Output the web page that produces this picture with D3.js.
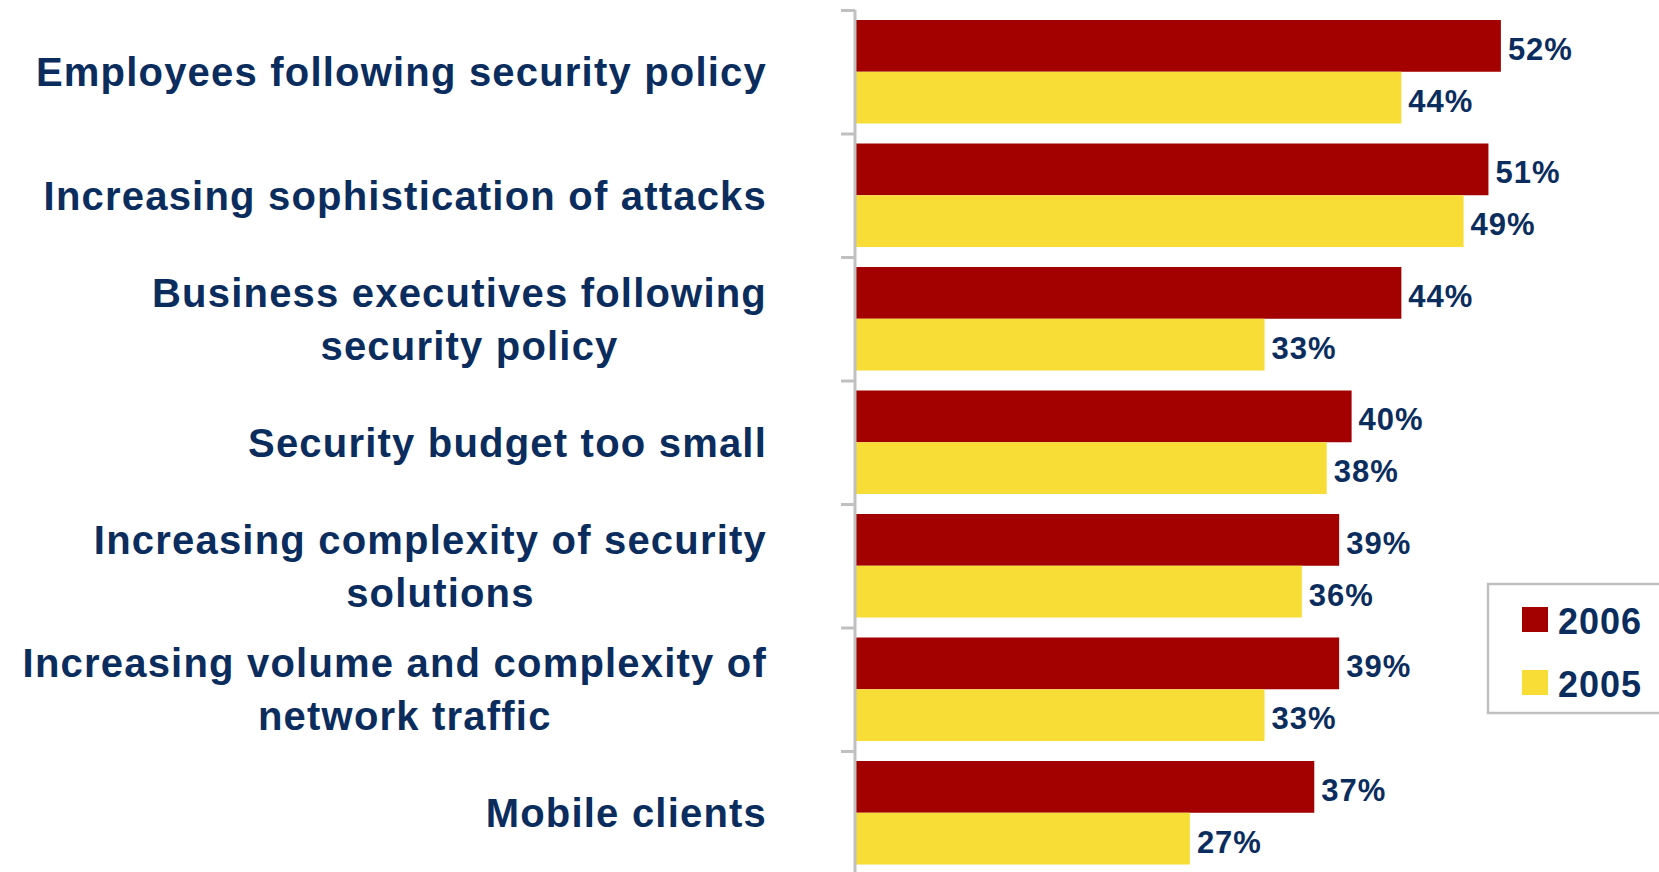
<!DOCTYPE html>
<html>
<head>
<meta charset="utf-8">
<script src="https://cdn.jsdelivr.net/npm/d3@7"></script>
<style>
  html, body { margin: 0; padding: 0; background: #ffffff; }
  svg { display: block; }
  text { font-family: "Liberation Sans", Arial, sans-serif; font-weight: bold; fill: #0b2d5e; }
</style>
</head>
<body>
<svg id="chart" width="1659" height="872"></svg>
<script>
// Top challenges to securing the network, share of respondents by survey year
const categories = [
  "Employees following security policy",
  "Increasing sophistication of attacks",
  "Business executives following\nsecurity policy",
  "Security budget too small",
  "Increasing complexity of security\nsolutions",
  "Increasing volume and complexity of\nnetwork traffic",
  "Mobile clients"
];
const seriesNames = ["2006", "2005"];
const values2006 = [0.52, 0.51, 0.44, 0.40, 0.39, 0.39, 0.37];
const values2005 = [0.44, 0.49, 0.33, 0.38, 0.36, 0.33, 0.27];
const seriesColors = ["#a30000", "#f7dd35"];

const width = 1659, height = 872;
const svg = d3.select("#chart");

const rows = categories.map((c, i) => ({
  category: c,
  values: [
    { series: seriesNames[0], value: values2006[i] },
    { series: seriesNames[1], value: values2005[i] }
  ]
}));

const plotTop = 10, step = 123.5;
const y = d3.scaleBand().domain(categories).range([plotTop, plotTop + step * categories.length]);
const yInner = d3.scaleBand().domain(seriesNames).range([10, y.bandwidth() - 10]);
const x = d3.scaleLinear().domain([0, 0.65]).range([854, 854 + 0.65 * 1244]);
const color = d3.scaleOrdinal().domain(seriesNames).range(seriesColors);
const pct = d3.format(".0%");

// Bars
const groups = svg.append("g").selectAll("g")
  .data(rows).join("g")
  .attr("transform", d => `translate(0,${y(d.category)})`);

groups.selectAll("rect")
  .data(d => d.values).join("rect")
  .attr("x", x(0))
  .attr("y", d => yInner(d.series))
  .attr("width", d => x(d.value) - x(0))
  .attr("height", yInner.bandwidth())
  .attr("fill", d => color(d.series));

// Value labels
groups.selectAll("text.value")
  .data(d => d.values).join("text")
  .attr("class", "value")
  .attr("x", d => x(d.value) + 7)
  .attr("y", d => yInner(d.series) + yInner.bandwidth() / 2 + 14)
  .style("font-size", "31px")
  .style("letter-spacing", "1px")
  .text(d => pct(d.value));

// Category axis: vertical line with ticks at band boundaries
const boundary = d3.scaleLinear().domain([0, categories.length]).range([plotTop, plotTop + step * categories.length]);
const axis = svg.append("g")
  .attr("transform", `translate(${x(0) + 1},0)`)
  .call(d3.axisLeft(boundary).tickValues(d3.range(categories.length + 1)).tickSize(14).tickSizeOuter(0).tickFormat(""));
axis.selectAll("path, line").attr("stroke", "#c0c0c0").attr("stroke-width", 3);
axis.select(".domain").attr("d", `M0,${plotTop}V${height}`);

// Category labels (right aligned block, lines centred on each other)
const labelRight = 767, lineGap = 53;
rows.forEach(r => {
  const lines = r.category.split("\n");
  const cy = y(r.category) + y.bandwidth() / 2;
  const g = svg.append("g");
  const texts = lines.map((ln, i) => g.append("text")
    .attr("y", cy + (i - (lines.length - 1) / 2) * lineGap + 14.5)
    .style("font-size", "40px")
    .style("letter-spacing", "1.2px")
    .text(ln));
  const widest = d3.max(texts, t => t.node().getComputedTextLength());
  texts.forEach((t, i) => t
    .attr("x", labelRight - widest / 2 + (i > 0 ? 10 : 0))
    .attr("text-anchor", "middle"));
});

// Legend
const legend = svg.append("g");
legend.append("rect")
  .attr("x", 1488).attr("y", 584).attr("width", 180).attr("height", 129)
  .attr("fill", "#ffffff").attr("stroke", "#c0c0c0").attr("stroke-width", 2.5);
const legendItems = legend.selectAll("g.item")
  .data(seriesNames).join("g")
  .attr("class", "item")
  .attr("transform", (d, i) => `translate(1522,${607 + i * 63})`);
legendItems.append("rect")
  .attr("width", 26).attr("height", 25)
  .attr("fill", d => color(d));
legendItems.append("text")
  .attr("x", 36).attr("y", 27)
  .style("font-size", "36px")
  .style("letter-spacing", "1px")
  .text(d => d);
</script>
</body>
</html>
